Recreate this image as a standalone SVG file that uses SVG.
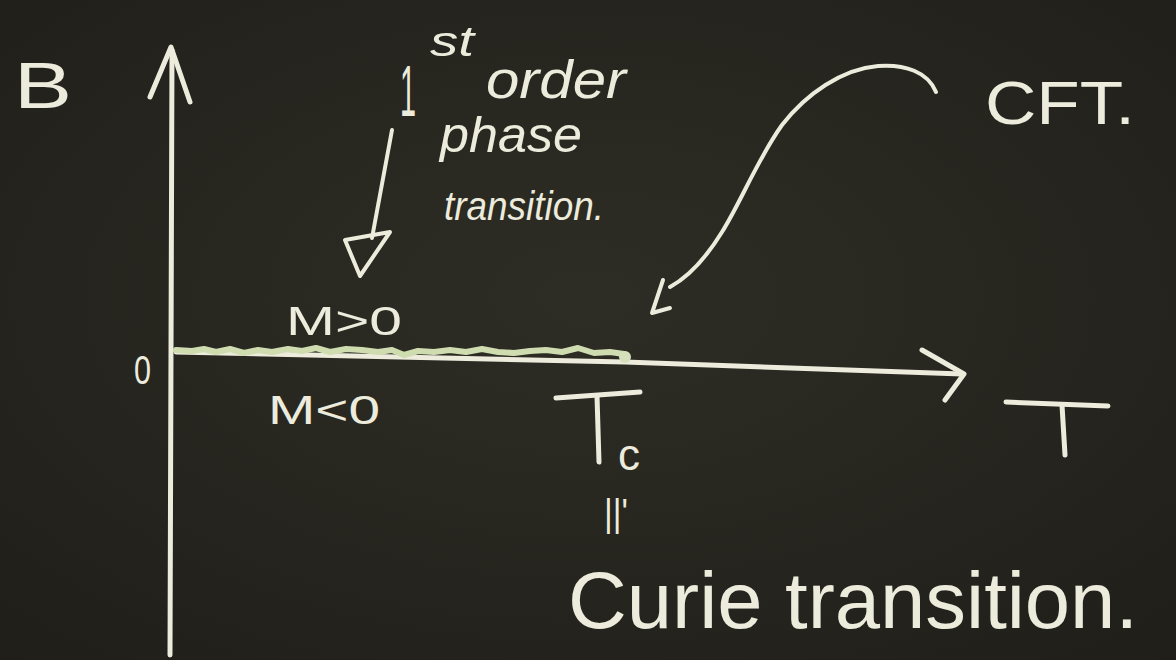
<svg xmlns="http://www.w3.org/2000/svg" width="1176" height="660" viewBox="0 0 1176 660">
<defs>
<radialGradient id="bg" cx="0.5" cy="0.45" r="0.75">
<stop offset="0" stop-color="#2e2d25"/>
<stop offset="1" stop-color="#1f1e19"/>
</radialGradient>
<style>
.chalk{fill:none;stroke:#ecebdc;stroke-width:5;stroke-linecap:round;stroke-linejoin:round}
.thin{stroke-width:4}
.green{fill:none;stroke:#cfdcb0;stroke-width:6;stroke-linecap:round;stroke-linejoin:round}
.t{fill:#ecebdc;font-family:"Liberation Sans","DejaVu Sans",sans-serif}
.h{fill:#ecebdc;font-family:"Liberation Sans","DejaVu Sans",sans-serif;font-style:italic}
</style>
</defs>
<rect width="1176" height="660" fill="url(#bg)"/>

<g id="connectors">
<!-- vertical B axis -->
<path class="chalk" d="M170 655 L172 50"/>
<path class="chalk" d="M150 97 L171 47 L190 102"/>
<!-- horizontal T axis -->
<path class="chalk" d="M176 352 L625 362 L962 374"/>
<path class="chalk" d="M922 350 L964 374 L945 400"/>
<!-- first order line (wiggly) -->
<path class="green" d="M176 350 L192 351 L204 349 L216 352 L230 349 L244 353 L258 350 L272 352 L288 349 L302 351 L316 348 L330 352 L346 349 L362 350 L378 352 L392 350 L404 355 L418 351 L434 352 L450 350 L466 352 L482 349 L498 352 L514 353 L530 351 L546 350 L562 352 L578 348 L594 353 L610 352 L624 354"/>
<circle cx="625" cy="357" r="6" fill="#d6e0bc"/>
<!-- down arrow from '1st order' -->
<path class="chalk thin" d="M392 130 L372 238"/>
<path class="chalk thin" d="M345 240 L390 232 L360 276 Z"/>
<!-- CFT curved arrow -->
<path class="chalk thin" d="M936 92 C928 72 905 64 878 66 C842 69 806 94 782 125 C757 160 742 200 722 232 C706 258 690 276 670 287"/>
<path class="chalk thin" d="M663 280 L652 313 L670 308"/>
</g>

<g id="label-B"><text class="t" x="14" y="108" font-size="64" textLength="58" lengthAdjust="spacingAndGlyphs">B</text></g>
<g id="label-0"><text class="t" x="134" y="384" font-size="40" textLength="17" lengthAdjust="spacingAndGlyphs">0</text></g>

<g id="label-first-order">
<text class="t" x="400" y="116" font-size="72" textLength="16" lengthAdjust="spacingAndGlyphs">1</text>
<text class="h" x="430" y="56" font-size="42" textLength="44" lengthAdjust="spacingAndGlyphs">st</text>
<text class="h" x="486" y="98" font-size="54" textLength="140" lengthAdjust="spacingAndGlyphs">order</text>
<text class="h" x="440" y="152" font-size="50" textLength="142" lengthAdjust="spacingAndGlyphs">phase</text>
<text class="h" x="444" y="220" font-size="40" textLength="160" lengthAdjust="spacingAndGlyphs">transition.</text>
</g>

<g id="label-Mpos"><text class="t" x="286" y="335" font-size="40" textLength="116" lengthAdjust="spacingAndGlyphs">M&gt;0</text></g>
<g id="label-Mneg"><text class="t" x="268" y="424" font-size="40" textLength="112" lengthAdjust="spacingAndGlyphs">M&lt;0</text></g>

<g id="label-CFT"><text class="t" x="985" y="124" font-size="62" textLength="150" lengthAdjust="spacingAndGlyphs">CFT.</text></g>

<g id="label-Tc">
<path class="chalk" d="M556 398 L640 392"/>
<path class="chalk" d="M597 396 L599 462"/>
<text class="t" x="618" y="470" font-size="44">c</text>
</g>
<g id="label-equals"><text class="t" x="604" y="526" font-size="38" textLength="24" lengthAdjust="spacingAndGlyphs">||'</text></g>

<g id="label-T">
<path class="chalk" d="M1006 402 L1108 406"/>
<path class="chalk" d="M1062 405 L1065 455"/>
</g>

<g id="label-curie"><text class="t" x="568" y="628" font-size="80" textLength="570" lengthAdjust="spacingAndGlyphs">Curie transition.</text></g>
</svg>
